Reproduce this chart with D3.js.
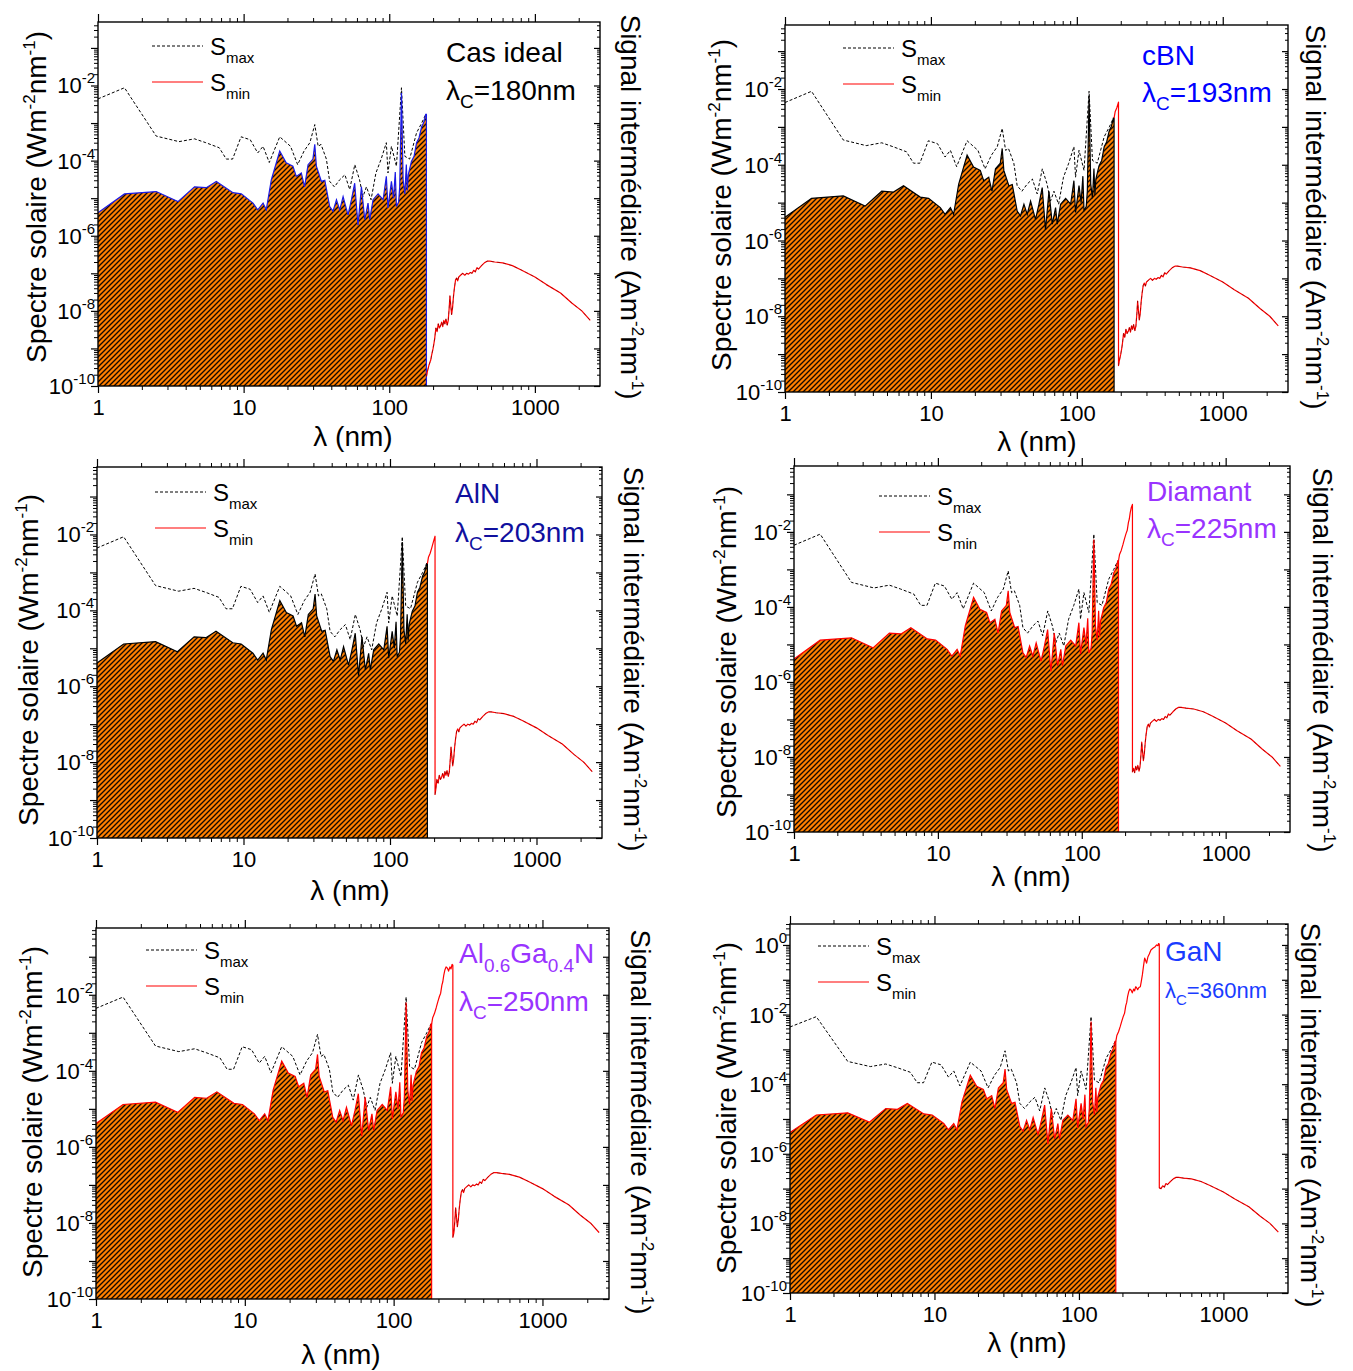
<!DOCTYPE html>
<html><head><meta charset="utf-8">
<script src="https://cdn.jsdelivr.net/npm/d3@7"></script>
<style>body{margin:0;background:#fff} svg{display:block}</style>
</head><body>
<svg id="chart" width="1353" height="1371"></svg>
<script>
// ---------------- DATA ----------------
// Solar spectrum, lower bound S_min (filled area, 1-180 nm)
const minLambda = [1,1.52,2.51,3.54,4.6,5.54,6.49,8.45,9.64,11.6,12.5,13.6,14.3,15.5,17.7,19.6,21.8,23,24.9,26.2,27.7,29.9,30.8,31.6,34.2,36.1,39,41.1,43.4,45.7,48.2,52.1,55,57.9,61,64.4,67.9,71.5,73.4,77.4,83.8,90.7,95.5,98,103.5,107,110,112,116,118,121.3,124.5,128,131,133,135,142,148,154,160,167,172,178,180];
const minValue  = [4.1e-6,1.3e-5,1.5e-5,8.1e-6,2.0e-5,1.9e-5,2.8e-5,1.4e-5,1.3e-5,7.4e-6,4.9e-6,7.4e-6,4.9e-6,3.1e-5,1.8e-4,8.7e-5,7.1e-5,3.8e-5,4.7e-5,2.0e-5,7.8e-5,1.1e-4,2.7e-4,7.1e-5,2.8e-5,3.0e-5,6.0e-6,4.5e-6,9.1e-6,4.9e-6,1.1e-5,3.6e-6,9.1e-6,2.5e-5,1.9e-6,2.0e-5,2.7e-6,7.4e-6,2.7e-6,9.1e-6,1.3e-5,9.1e-6,3.8e-5,5.5e-6,2.8e-5,1.0e-5,5.0e-5,6.0e-6,7.9e-6,2.0e-5,6.3e-3,3.1e-5,1.3e-5,7.9e-5,1.6e-5,4.2e-5,9.5e-5,1.3e-4,3.0e-4,4.0e-4,8.1e-4,1.0e-3,1.7e-3,1.7e-3];
// Solar spectrum, upper bound S_max (dashed, 1-180 nm)
const maxLambda = [1,1.52,2.51,3.6,4.6,5.5,6.8,7.6,8.4,9.6,11.1,12.5,13.6,15,17.7,21,23.5,26,28.5,30.8,32.5,34,37,39,42,45.7,49.6,53.5,58,62.5,66,69.7,75,81,88,95.5,98,103.5,112,121.3,128,138,154,167,178,180];
const maxValue  = [4.4e-3,8.7e-3,4.5e-4,3.2e-4,3.8e-4,3.0e-4,2.2e-4,1.1e-4,1.1e-4,4.3e-4,3.6e-4,1.6e-4,2.4e-4,8.9e-5,4.3e-4,2.4e-4,7.8e-5,1.8e-4,3.0e-4,9.1e-4,2.4e-4,2.7e-4,1.1e-4,2.8e-5,2.0e-5,3.1e-5,4.2e-5,1.7e-5,7.8e-5,3.1e-5,1.1e-5,2.0e-5,9.1e-6,4.7e-5,1.1e-4,3.0e-4,4.7e-5,2.4e-4,7.1e-5,8.7e-3,1.3e-4,1.1e-4,5.5e-4,1.0e-3,1.7e-3,1.7e-3];
// Intermediate signal below the cut-off wavelength (180-360 nm)
const highLambda = [180,183,188,193,198,203,207,211,214,217,221,225,230,234,239,243,247,250,255,260,266,270,275,280,285,290,294,300,307,315,325,337,345,352,356,360];
const highValue  = [1.7e-3,2.5e-3,3.2e-3,4.5e-3,6.5e-3,9.0e-3,1.1e-2,1.8e-2,2.2e-2,3.2e-2,4.5e-2,5.4e-2,5.0e-2,4.2e-2,5.4e-2,4.8e-2,6.3e-2,6.0e-2,5.2e-2,6.0e-2,6.3e-2,8.9e-2,1.4e-1,2.5e-1,4.2e-1,3.5e-1,3.0e-1,4.5e-1,5.5e-1,7.2e-1,8.0e-1,8.9e-1,1.0,0.95,1.1,1.05];
// Intermediate signal above the cut-off wavelength (180-2400 nm)
const lowLambda = [180,183,187,191,193,195,200,203,205,209,213,217,221,225,229,233,237,241,245,250,254,258,261,264,268,272,276,280,285,290,295,300,310,320,330,340,350,360,370,380,390,400,410,430,450,470,490,530,600,700,800,1000,1200,1500,1800,2100,2400];
const lowValue  = [1.8e-10,2.5e-10,3.5e-10,4.5e-10,5.0e-10,6.3e-10,1.0e-9,1.4e-9,1.8e-9,3.5e-9,2.8e-9,4.5e-9,3.5e-9,4.0e-9,5.0e-9,3.8e-9,5.6e-9,4.5e-9,6.0e-9,4.2e-9,5.5e-9,1.2e-8,2.5e-8,1.5e-8,8.0e-9,1.2e-8,2.4e-8,4.0e-8,6.5e-8,7.5e-8,6.3e-8,8.0e-8,9.0e-8,1.0e-7,8.9e-8,1.0e-7,9.5e-8,1.05e-7,1.0e-7,1.2e-7,1.1e-7,1.4e-7,1.3e-7,1.6e-7,1.9e-7,2.1e-7,2.1e-7,2.0e-7,1.9e-7,1.6e-7,1.25e-7,8.0e-8,5.0e-8,3.0e-8,1.6e-8,1.0e-8,5.6e-9];
const fillEnd = 180;
const cutoffs = [180,193,203,225,250,360];
const xTickValues = [1,10,100,1000];
const xTickLabels = ["1","10","100","1000"];
const xDomain = [1,2800];
const yTops = [0.49,0.49,0.6,0.57,0.57,4];
const legendLabels = [["S","max"],["S","min"]];
const titles = [
  [{t:"Cas ideal"}],
  [{t:"cBN"}],
  [{t:"AlN"}],
  [{t:"Diamant"}],
  [{t:"Al"},{t:"0.6",sub:1},{t:"Ga"},{t:"0.4",sub:1},{t:"N"}],
  [{t:"GaN"}]
];
const yLabel = [{t:"Spectre solaire (Wm"},{t:"-2",sup:1},{t:"nm"},{t:"-1",sup:1},{t:")"}];
const rLabel = [{t:"Signal intermédiaire (Am"},{t:"-2",sup:1},{t:"nm"},{t:"-1",sup:1},{t:")"}];
const xLabel = "λ (nm)";

// ---------------- LAYOUT / STYLE ----------------
const FONT = "'Liberation Sans', Arial, Helvetica, sans-serif";
const panels = [
 {x0:98,x1:600,y0:22,y1:386, outline:"#1a1ae6", tc:"#000000", t2:28,
  ylab:[46,197], rlab:[621,207], xlab:[353,446], leg:[152,46], title:[446,62,100]},
 {x0:785,x1:1288,y0:25,y1:392, outline:"#000000", tc:"#0000ff", t2:28,
  ylab:[731,205], rlab:[1306,217], xlab:[1037,451], leg:[843,48], title:[1142,65,102]},
 {x0:97,x1:602,y0:467,y1:838, outline:"#000000", tc:"#10109e", t2:28,
  ylab:[38,660], rlab:[624,659], xlab:[350,900], leg:[155,492], title:[455,503,542]},
 {x0:794,x1:1290,y0:466,y1:832, outline:"#ff0000", tc:"#9933ff", t2:28,
  ylab:[736,652], rlab:[1313,660], xlab:[1031,886], leg:[879,496], title:[1147,501,538]},
 {x0:96,x1:609,y0:928,y1:1299, outline:"#ff0000", tc:"#9933ff", t2:28,
  ylab:[42,1112], rlab:[631,1122], xlab:[341,1364], leg:[146,950], title:[459,963,1011]},
 {x0:790,x1:1288,y0:924,y1:1293, outline:"#ff0000", tc:"#1a3cff", t2:22,
  ylab:[736,1108], rlab:[1301,1115], xlab:[1027,1352], leg:[818,946], title:[1165,961,998]}
];

const svg = d3.select("#chart");
const defs = svg.append("defs");
const pat = defs.append("pattern").attr("id","hatch").attr("patternUnits","userSpaceOnUse")
  .attr("width",5).attr("height",5);
pat.append("rect").attr("width",5).attr("height",5).attr("fill","#ff8000");
pat.append("path").attr("d","M-1,1 l2,-2 M0,5 l5,-5 M4,6 l2,-2")
  .attr("stroke","#140800").attr("stroke-width",1.35);

function rich(text, segs, size, small, shift){
  let cur = 0;
  segs.forEach(s=>{
    const target = s.sub ? shift : (s.sup ? -shift : 0);
    text.append("tspan").attr("dy", target-cur)
      .attr("font-size", (s.sub||s.sup) ? small : size).text(s.t);
    cur = target;
  });
}
function decades(lo,hi){
  const a=[]; for(let e=Math.round(Math.log10(lo)); e<=Math.floor(Math.log10(hi)+1e-9); e++) a.push(Math.pow(10,e)); return a;
}
function minors(lo,hi){
  const a=[]; for(let e=Math.floor(Math.log10(lo)); e<=Math.ceil(Math.log10(hi)); e++)
    for(let k=2;k<=9;k++){ const v=k*Math.pow(10,e); if(v>=lo*0.9999 && v<=hi*1.0001) a.push(v);} return a;
}
const zip = (xs,ys)=>xs.map((x,i)=>[x,ys[i]]);
const solarMinPts = zip(minLambda,minValue);
const solarMaxPts = zip(maxLambda,maxValue);
const highPts = zip(highLambda,highValue);
const lowPts = zip(lowLambda,lowValue);

panels.forEach((p,i)=>{
  const c = cutoffs[i];
  const x = d3.scaleLog().domain(xDomain).range([p.x0,p.x1]);
  const y = d3.scaleLog().domain([1e-10,yTops[i]]).range([p.y1,p.y0]);
  const g = svg.append("g");
  const cid = "clip"+i;
  defs.append("clipPath").attr("id",cid).append("rect")
    .attr("x",p.x0).attr("y",p.y0).attr("width",p.x1-p.x0).attr("height",p.y1-p.y0);
  const plot = g.append("g").attr("clip-path",`url(#${cid})`);

  // filled area (S_min up to 180 nm)
  const area = d3.area().x(d=>x(d[0])).y0(p.y1).y1(d=>y(d[1]));
  plot.append("path").datum(solarMinPts).attr("d",area).attr("fill","url(#hatch)");

  // S_max dashed
  const line = d3.line().x(d=>x(d[0])).y(d=>y(d[1]));
  plot.append("path").datum(solarMaxPts).attr("d",line).attr("fill","none")
    .attr("stroke","#000").attr("stroke-width",1).attr("stroke-dasharray","3,2");

  // S_min outline with vertical edge
  const last = solarMinPts[solarMinPts.length-1];
  plot.append("path").datum(solarMinPts.concat([[last[0],1e-10]])).attr("d",line).attr("fill","none")
    .attr("stroke",p.outline).attr("stroke-width",1.2);

  // intermediate signal
  let sig = [];
  if(c > fillEnd) sig = highPts.filter(d=>d[0]<=c);
  sig = sig.concat(lowPts.filter(d=>d[0]>=c));
  plot.append("path").datum(sig).attr("d",line).attr("fill","none")
    .attr("stroke","#ff0000").attr("stroke-width",1.2).attr("stroke-linejoin","round");
  plot.append("path").datum(lowPts.filter(d=>d[0]>=c)).attr("d",line).attr("fill","none")
    .attr("stroke","#000").attr("stroke-width",0.7).attr("stroke-opacity",0.45).attr("stroke-dasharray","3,3");

  // axes
  const [ylo,yhi] = y.domain();
  const majY = decades(ylo,yhi), minY = minors(ylo,yhi);
  const majX = decades(xDomain[0],xDomain[1]), minX = minors(xDomain[0],xDomain[1]);
  const styleAxis = sel=>{ sel.select(".domain").remove(); sel.selectAll("line").attr("stroke","#000"); };
  g.append("g").attr("transform",`translate(${p.x0},0)`).call(d3.axisLeft(y).tickValues(majY).tickSize(7).tickFormat("")).call(styleAxis).selectAll("line").attr("stroke-width",1.2);
  g.append("g").attr("transform",`translate(${p.x0},0)`).call(d3.axisLeft(y).tickValues(minY).tickSize(4).tickFormat("")).call(styleAxis);
  g.append("g").attr("transform",`translate(${p.x1},0)`).call(d3.axisRight(y).tickValues(majY).tickSize(-6).tickFormat("")).call(styleAxis).selectAll("line").attr("stroke-width",1.2);
  g.append("g").attr("transform",`translate(${p.x1},0)`).call(d3.axisRight(y).tickValues(minY).tickSize(-3).tickFormat("")).call(styleAxis);
  g.append("g").attr("transform",`translate(0,${p.y0})`).call(d3.axisTop(x).tickValues(majX).tickSize(8).tickFormat("")).call(styleAxis).selectAll("line").attr("stroke-width",1.2);
  g.append("g").attr("transform",`translate(0,${p.y0})`).call(d3.axisTop(x).tickValues(minX).tickSize(4).tickFormat("")).call(styleAxis);
  const bx = g.append("g").attr("transform",`translate(0,${p.y1})`)
    .call(d3.axisBottom(x).tickValues(xTickValues).tickSize(7).tickPadding(6).tickFormat((d,k)=>xTickLabels[k]))
    .call(styleAxis);
  bx.selectAll("line").attr("stroke-width",1.2);
  bx.selectAll("text").attr("font-family",FONT).attr("font-size",22).attr("fill","#000");
  g.append("g").attr("transform",`translate(0,${p.y1})`).call(d3.axisBottom(x).tickValues(minX).tickSize(4).tickFormat("")).call(styleAxis);

  // frame
  g.append("rect").attr("x",p.x0).attr("y",p.y0).attr("width",p.x1-p.x0).attr("height",p.y1-p.y0)
    .attr("fill","none").attr("stroke","#000").attr("stroke-width",1.4);

  // y tick labels (even decades)
  majY.filter(v=>Math.round(Math.log10(v))%2===0).forEach(v=>{
    const e = Math.round(Math.log10(v));
    const t = g.append("text").attr("x",p.x0-3).attr("y",y(v)+8).attr("text-anchor","end")
      .attr("font-family",FONT).attr("fill","#000");
    rich(t,[{t:"10"},{t:String(e),sup:1}],22,15,10);
  });

  // axis titles
  const yl = g.append("text").attr("transform",`translate(${p.ylab[0]},${p.ylab[1]}) rotate(-90)`)
    .attr("text-anchor","middle").attr("font-family",FONT).attr("fill","#000");
  rich(yl,yLabel,28,17,11);
  const rl = g.append("text").attr("transform",`translate(${p.rlab[0]},${p.rlab[1]}) rotate(90)`)
    .attr("text-anchor","middle").attr("font-family",FONT).attr("fill","#000");
  rich(rl,rLabel,28,17,11);
  g.append("text").attr("x",p.xlab[0]).attr("y",p.xlab[1]).attr("text-anchor","middle")
    .attr("font-family",FONT).attr("font-size",28).attr("fill","#000").text(xLabel);

  // legend
  [0,1].forEach(k=>{
    const ly = p.leg[1] + k*36;
    g.append("line").attr("x1",p.leg[0]).attr("x2",p.leg[0]+51).attr("y1",ly).attr("y2",ly)
      .attr("stroke", k===0 ? "#000" : "#ff0000").attr("stroke-width", k===0?1:1.2)
      .attr("stroke-dasharray", k===0 ? "3,2" : null);
    const lt = g.append("text").attr("x",p.leg[0]+58).attr("y",ly+9).attr("font-family",FONT).attr("fill","#000");
    rich(lt,[{t:legendLabels[k][0]},{t:legendLabels[k][1],sub:1}],24,15,8);
  });

  // title
  const t1 = g.append("text").attr("x",p.title[0]).attr("y",p.title[1]).attr("font-family",FONT).attr("fill",p.tc);
  rich(t1,titles[i],28,19,9);
  const t2 = g.append("text").attr("x",p.title[0]).attr("y",p.title[2]).attr("font-family",FONT).attr("fill",p.tc);
  rich(t2,[{t:"λ"},{t:"C",sub:1},{t:"="+c+"nm"}],p.t2,Math.round(p.t2*0.68),p.t2*0.3);
});
</script>
</body></html>
